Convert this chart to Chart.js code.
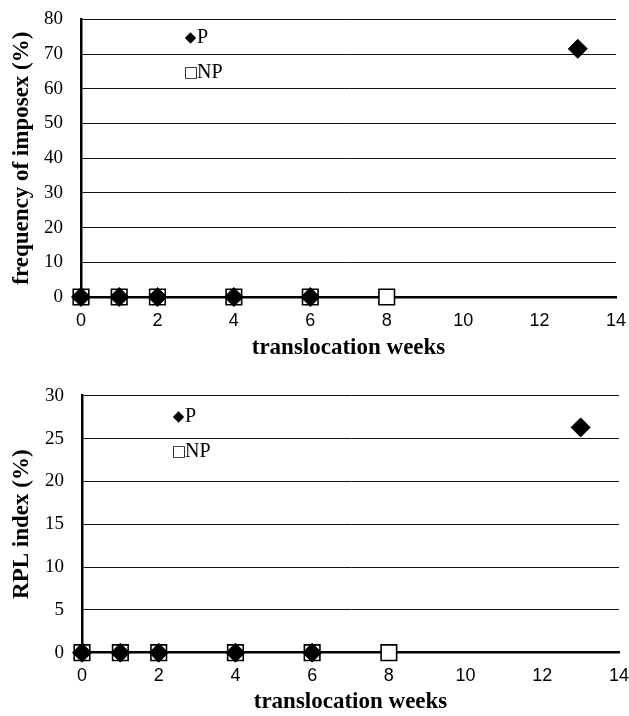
<!DOCTYPE html>
<html>
<head>
<meta charset="utf-8">
<script src="https://cdn.jsdelivr.net/npm/chart.js@4/dist/chart.umd.min.js"></script>
<style>
  html, body { margin: 0; padding: 0; background: #fff; }
  #wrap { position: relative; width: 629px; height: 716px; overflow: hidden; }
  .pane { position: absolute; left: 0; width: 629px; }
  .legend { position: absolute; font-family: "Liberation Serif", "Times New Roman", serif; font-size: 20px; color: #000; line-height: 22px; white-space: nowrap; }
  .legend .sym { font-family: "DejaVu Sans", sans-serif; font-size: 15px; display: inline-block; width: 13px; text-align: center; vertical-align: 1px; }
</style>
</head>
<body>
<div id="wrap">
  <div class="pane" id="paneA" style="top:0;height:366px;"><canvas id="chartA"></canvas></div>
  <div class="pane" id="paneB" style="top:366px;height:350px;"><canvas id="chartB"></canvas></div>
  <div class="legend" style="left:184px;top:25px;"><span class="sym">◆</span>P</div>
  <div class="legend" style="left:184px;top:60px;"><span class="sym">□</span>NP</div>
  <div class="legend" style="left:172px;top:404px;"><span class="sym">◆</span>P</div>
  <div class="legend" style="left:172px;top:439px;"><span class="sym">□</span>NP</div>
</div>
<script>
// translocation weeks at which each group was sampled
const weeksP  = [0, 1, 2, 4, 6, 13];
const weeksNP = [0, 1, 2, 4, 6, 8];

// frequency of imposex (%)
const imposexP  = [0, 0, 0, 0, 0, 71.5];
const imposexNP = [0, 0, 0, 0, 0, 0];

// RPL index (%)
const rplP  = [0, 0, 0, 0, 0, 26.3];
const rplNP = [0, 0, 0, 0, 0, 0];

const xTitle = 'translocation weeks';
const yTitleA = 'frequency of imposex (%)';
const yTitleB = 'RPL index (%)';

const serif = '"Liberation Serif", "Times New Roman", serif';
const sans = '"Liberation Sans", Arial, sans-serif';

function points(xs, ys) {
  return xs.map((x, i) => ({ x: x, y: ys[i] }));
}

function makeChart(id, pVals, npVals, yMax, yStep, yTitle, geo) {
  return new Chart(document.getElementById(id), {
    type: 'scatter',
    data: {
      datasets: [
        {
          label: 'P',
          data: points(weeksP, pVals),
          pointStyle: 'rectRot',
          pointRadius: 9.5,
          pointHoverRadius: 9.5,
          backgroundColor: '#000',
          borderColor: '#000',
          borderWidth: 1,
          order: 0,
          clip: false
        },
        {
          label: 'NP',
          data: points(weeksNP, npVals),
          pointStyle: 'rect',
          pointRadius: 11,
          pointHoverRadius: 11,
          backgroundColor: '#fff',
          borderColor: '#000',
          borderWidth: 1.6,
          order: 1,
          clip: false
        }
      ]
    },
    options: {
      responsive: true,
      maintainAspectRatio: false,
      animation: false,
      events: [],
      layout: {
        autoPadding: false,
        padding: { top: geo.top, right: geo.right, left: 0, bottom: 0 }
      },
      plugins: { legend: { display: false }, tooltip: { enabled: false } },
      scales: {
        x: {
          type: 'linear',
          min: 0,
          max: 14,
          ticks: { stepSize: 2, color: '#000', padding: 13, font: { family: sans, size: 18 } },
          grid: { display: false, drawTicks: false },
          border: { display: true, color: '#000', width: 2.5 },
          title: {
            display: true, text: xTitle, color: '#000',
            font: { family: serif, size: 23, weight: 'bold' },
            padding: { top: 0, bottom: geo.xTitlePad }
          },
          afterFit: s => {
            s.height = geo.xHeight;
            s.paddingLeft = 0;
            s.paddingRight = 0;
          }
        },
        y: {
          min: 0,
          max: yMax,
          ticks: { stepSize: yStep, color: '#000', padding: 18, font: { family: serif, size: 19 } },
          grid: { color: '#111', lineWidth: 1, drawTicks: false },
          border: { display: true, color: '#000', width: 2.5 },
          title: {
            display: true, text: yTitle, color: '#000',
            font: { family: serif, size: 23, weight: 'bold' },
            padding: { top: 8, bottom: 0 }
          },
          afterFit: s => {
            s.width = geo.left;
            s.paddingTop = 0;
            s.paddingBottom = 0;
          }
        }
      }
    }
  });
}

makeChart('chartA', imposexP, imposexNP, 80, 10, yTitleA,
  { top: 19.3, right: 13, left: 81, xHeight: 69, xTitlePad: 4 });
makeChart('chartB', rplP, rplNP, 30, 5, yTitleB,
  { top: 29.7, right: 10, left: 82, xHeight: 63.3, xTitlePad: 0 });
</script>
</body>
</html>
